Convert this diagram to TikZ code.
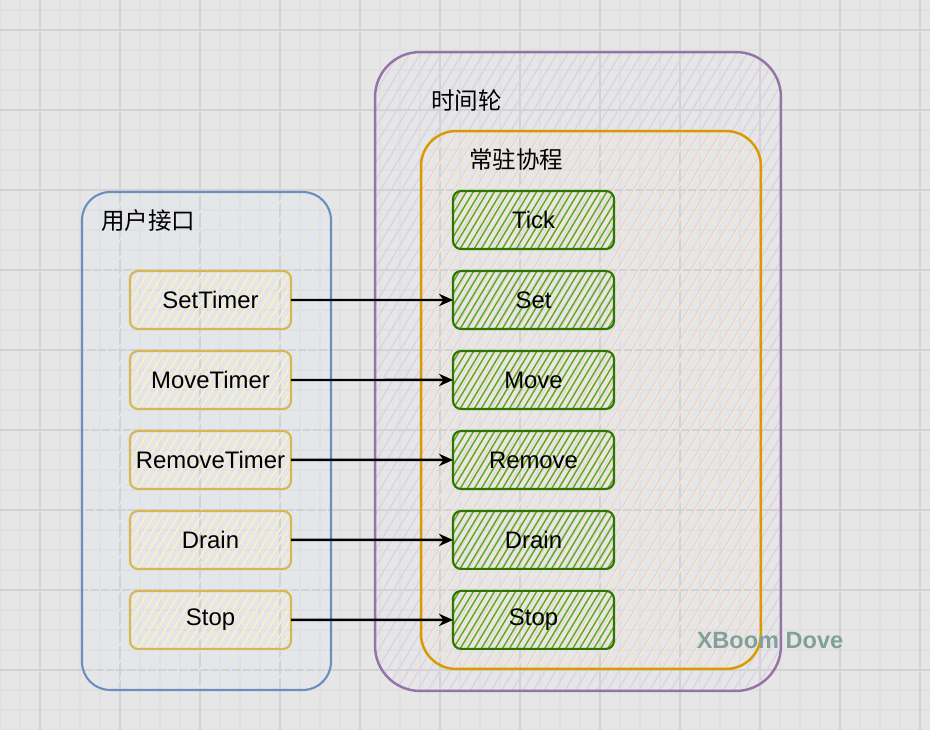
\documentclass[tikz,border=0pt]{standalone}
\usepackage{fontspec}
\setmainfont{Liberation Sans}
\newfontfamily\cjk{Noto Sans CJK SC}
\usetikzlibrary{positioning,arrows.meta}

\definecolor{paper}{HTML}{E6E6E6}
\definecolor{gridminor}{HTML}{E0E0E0}
\definecolor{gridmajor}{HTML}{D2D2D2}
\definecolor{apiline}{HTML}{6C8EBF}
\definecolor{apifill}{HTML}{DAE8FC}
\definecolor{wheelline}{HTML}{9673A6}
\definecolor{wheelfill}{HTML}{DDD0E6}
\definecolor{loopline}{HTML}{D79B00}
\definecolor{loopfill}{HTML}{FBE8CC}
\definecolor{callline}{HTML}{D6B656}
\definecolor{callfill}{HTML}{FFF0C4}
\definecolor{opline}{HTML}{2D7600}
\definecolor{opfill}{HTML}{60A917}
\definecolor{signcolor}{HTML}{80A09A}

\tikzset{
  hatch/.style n args={3}{path picture={
    \foreach \k in {-60,...,80}
      \draw[#1,line width=#3] ([xshift=\k*#2]path picture bounding box.south west) -- ++(12cm,20cm);
  }},
  apigroup/.style={draw=apiline,line width=1.2pt,rounded corners=0.56cm,
    minimum width=4.98cm,minimum height=9.96cm,hatch={apifill}{6pt}{0.7pt}},
  wheelgroup/.style={draw=wheelline,line width=1.4pt,rounded corners=0.9cm,
    minimum width=8.12cm,minimum height=12.78cm,hatch={wheelfill}{6pt}{0.7pt}},
  loopgroup/.style={draw=loopline,line width=1.4pt,rounded corners=0.7cm,
    minimum width=6.8cm,minimum height=10.76cm,hatch={loopfill}{6pt}{0.7pt}},
  callbox/.style={draw=callline,line width=1.2pt,rounded corners=0.16cm,
    minimum width=3.22cm,minimum height=1.16cm,inner sep=0pt,outer sep=0pt,
    hatch={callfill}{4.5pt}{0.8pt},font=\fontsize{13.6}{16}\selectfont},
  opbox/.style={draw=opline,line width=1.2pt,rounded corners=0.16cm,
    minimum width=3.22cm,minimum height=1.16cm,inner sep=0pt,outer sep=0pt,
    hatch={opfill}{4pt}{0.8pt},font=\fontsize{13.6}{16}\selectfont},
  title/.style={anchor=west,inner sep=0pt,font=\cjk\fontsize{13.4}{16}\selectfont},
  flow/.style={-{Stealth[length=8pt,width=7pt]},line width=1.4pt,black},
  watermark/.style={text=signcolor,font=\bfseries\fontsize{13.4}{16}\selectfont},
}

\begin{document}
\begin{tikzpicture}[x=0.02cm,y=-0.02cm,node distance=0.44cm]
\useasboundingbox (0,0) rectangle (930,730);
\fill[paper] (0,0) rectangle (930,730);
\foreach \x in {0,20,...,920}
  \draw[gridminor,line width=0.6pt] (\x,0) -- (\x,730);
\foreach \y in {10,30,...,730}
  \draw[gridminor,line width=0.6pt] (0,\y) -- (930,\y);
\foreach \x in {40,120,...,920}
  \draw[gridmajor,line width=0.6pt] (\x,0) -- (\x,730);
\foreach \y in {30,110,...,730}
  \draw[gridmajor,line width=0.6pt] (0,\y) -- (930,\y);

% time wheel
\node[wheelgroup] (wheel) at (578,371.5) {};
\node[title] (wheeltitle) at (431,101) {时间轮};
\node[loopgroup] (loop) at (591,400) {};
\node[title] (looptitle) at (469,160) {常驻协程};

\node[opbox] (tick) at (533.5,220) {Tick};
\node[opbox,below=of tick] (set) {Set};
\node[opbox,below=of set] (move) {Move};
\node[opbox,below=of move] (remove) {Remove};
\node[opbox,below=of remove] (drain) {Drain};
\node[opbox,below=of drain] (stop) {Stop};

% user api
\node[apigroup] (api) at (206.5,441) {};
\node[title] (apititle) at (101,221) {用户接口};

\node[callbox] (settimer) at (210.5,300) {SetTimer};
\node[callbox,below=of settimer] (movetimer) {MoveTimer};
\node[callbox,below=of movetimer] (removetimer) {RemoveTimer};
\node[callbox,below=of removetimer] (draincall) {Drain};
\node[callbox,below=of draincall] (stopcall) {Stop};

\draw[flow] (settimer) -- (set);
\draw[flow] (movetimer) -- (move);
\draw[flow] (removetimer) -- (remove);
\draw[flow] (draincall) -- (drain);
\draw[flow] (stopcall) -- (stop);

\node[watermark] (sign) at (770,641) {XBoom Dove};
\end{tikzpicture}
\end{document}
